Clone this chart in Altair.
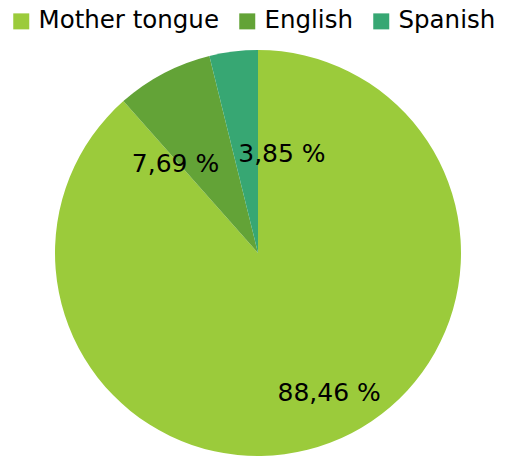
import altair as alt
import pandas as pd

categories = ["Mother tongue", "English", "Spanish"]
values = [88.46, 7.69, 3.85]
labels = ["88,46 %", "7,69 %", "3,85 %"]
colors = ["#9BCB3B", "#63A337", "#37A773"]
order = [0, 1, 2]

df = pd.DataFrame({"category": categories, "value": values, "label": labels, "order": order})

theta_scale = alt.Scale(domain=[0, 100])
FONT = "DejaVu Sans"

base = alt.Chart(df)

arcs = base.mark_arc(outerRadius=203).encode(
    theta=alt.Theta("value:Q", stack=True, scale=theta_scale),
    color=alt.Color(
        "category:N",
        scale=alt.Scale(domain=categories, range=colors),
        legend=alt.Legend(
            orient="none", direction="horizontal", legendX=-46, legendY=-49,
            title=None, symbolType="square", symbolSize=256, symbolStrokeWidth=0,
            labelFontSize=24.5, labelFont=FONT, labelOffset=5, columnPadding=16,
            labelColor="black", labelLimit=0, padding=0,
        ),
    ),
    order=alt.Order("order:Q"),
)

stacked = base.transform_window(
    cum="sum(value)", sort=[{"field": "order"}]
).transform_calculate(mid="datum.cum - datum.value / 2")


def label_layer(cat, radius, dx, dy):
    return stacked.transform_filter(alt.datum.category == cat).mark_text(
        radius=radius, dx=dx, dy=dy, fontSize=25, font=FONT, color="black",
        align="center", baseline="middle",
    ).encode(
        theta=alt.Theta("mid:Q", stack=False, scale=theta_scale),
        text="label:N",
    )


chart = alt.layer(
    arcs,
    label_layer("Mother tongue", 150, 18, 0),
    label_layer("English", 100, -36, 0),
    label_layer("Spanish", 100, 36, 0),
).properties(
    width=406, height=390,
    autosize=alt.AutoSizeParams(type="none"),
    padding={"left": 47, "top": 50, "right": 34, "bottom": 8},
).configure_view(stroke=None)

chart.save("out.html", embed_options={"renderer": "svg", "actions": False})
